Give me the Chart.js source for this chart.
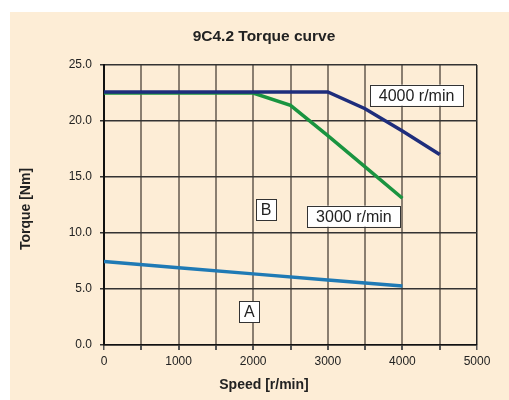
<!DOCTYPE html>
<html>
<head>
<meta charset="utf-8">
<script src="https://cdn.jsdelivr.net/npm/chart.js@4"></script>
<style>
  html, body { margin: 0; padding: 0; background: #fff; }
  #wrap { width: 509px; height: 400px; }
</style>
</head>
<body>
<div id="wrap"><canvas id="myChart" width="509" height="400"></canvas></div>
<script>
// 4000 r/min curve
let speeds4000 = [0, 3000, 3500, 4000, 4500];
let torque4000 = [22.6, 22.6, 21.1, 19.1, 17.0];
// 3000 r/min curve
let speeds3000 = [0, 2000, 2500, 3000, 3500, 4000];
let torque3000 = [22.5, 22.5, 21.4, 18.7, 15.9, 13.1];
// lower curve (zone A limit)
let speedsA = [0, 1000, 2000, 3000, 4000];
let torqueA = [7.45, 6.9, 6.35, 5.8, 5.27];

let toPoints = (xs, ys) => xs.map((x, i) => ({ x: x, y: ys[i] }));

// boxed text labels, placed in data coordinates
let notes = [
  { text: '4000 r/min', x: 4190, y: 22.3, w: 93 },
  { text: '3000 r/min', x: 3350, y: 11.5, w: 93 },
  { text: 'B', x: 2172, y: 12.1, w: 20 },
  { text: 'A', x: 1948, y: 2.95, w: 20 }
];

let fontFamily = '"Liberation Sans", Arial, sans-serif';
Chart.defaults.font.family = fontFamily;
Chart.defaults.color = '#222';

// beige panel + chart / axis titles (the source centres them on the panel, not the plot)
let panel = {
  id: 'panel',
  beforeDraw(chart) {
    let c = chart.ctx;
    c.save();
    c.fillStyle = '#fdedd6';
    c.fillRect(10, 12, chart.width - 10, chart.height - 12);
    c.fillStyle = '#222';
    c.textAlign = 'center';
    c.textBaseline = 'middle';
    c.font = 'bold 15.5px ' + fontFamily;
    c.fillText('9C4.2 Torque curve', 264, 37);
    c.font = 'bold 14px ' + fontFamily;
    c.fillText('Speed [r/min]', 264, 385);
    c.translate(26, 209);
    c.rotate(-Math.PI / 2);
    c.fillText('Torque [Nm]', 0, 0);
    c.restore();
  }
};

let boxes = {
  id: 'boxes',
  afterDatasetsDraw(chart) {
    let c = chart.ctx;
    let xs = chart.scales.x, ys = chart.scales.y;
    c.save();
    c.font = '16px ' + fontFamily;
    c.textAlign = 'center';
    c.textBaseline = 'middle';
    notes.forEach(n => {
      let px = xs.getPixelForValue(n.x);
      let py = ys.getPixelForValue(n.y);
      let h = 21;
      c.fillStyle = '#fff';
      c.fillRect(px - n.w / 2, py - h / 2, n.w, h);
      c.strokeStyle = '#333';
      c.lineWidth = 1;
      c.strokeRect(Math.round(px - n.w / 2) + 0.5, Math.round(py - h / 2) + 0.5, n.w, h);
      c.fillStyle = '#222';
      c.fillText(n.text, px, py + 1);
    });
    c.restore();
  }
};

let ctx = document.getElementById('myChart').getContext('2d');
let myChart = new Chart(ctx, {
  type: 'line',
  data: {
    datasets: [
      {
        label: '4000 r/min',
        data: toPoints(speeds4000, torque4000),
        borderColor: '#1e2d7c',
        borderWidth: 3.5,
        pointRadius: 0,
        tension: 0
      },
      {
        label: '3000 r/min',
        data: toPoints(speeds3000, torque3000),
        borderColor: '#1a9440',
        borderWidth: 3.5,
        pointRadius: 0,
        tension: 0
      },
      {
        label: 'A',
        data: toPoints(speedsA, torqueA),
        borderColor: '#1f7ab5',
        borderWidth: 3.5,
        pointRadius: 0,
        tension: 0
      }
    ]
  },
  options: {
    responsive: false,
    animation: false,
    layout: { padding: { left: 10, top: 65, right: 32, bottom: 0 } },
    plugins: {
      legend: { display: false },
      tooltip: { enabled: false },
      title: { display: false }
    },
    scales: {
      x: {
        type: 'linear',
        min: 0,
        max: 5000,
        afterFit: (s) => { s.height = 55; },
        ticks: {
          stepSize: 500,
          autoSkip: false,
          maxRotation: 0,
          padding: 4,
          font: { size: 12 },
          callback: (v) => (v % 1000 === 0 ? String(v) : '')
        },
        grid: {
          color: (c) => (c.index === 0 || c.index === 10 ? '#222' : '#8a7e70'),
          lineWidth: (c) => (c.index === 0 || c.index === 10 ? 1.5 : 2),
          tickLength: 5,
          tickColor: '#555'
        },
        border: { color: '#111', width: 1.5 }
      },
      y: {
        min: 0,
        max: 25,
        afterFit: (s) => { s.width = 94; },
        ticks: {
          stepSize: 5,
          padding: 8,
          font: { size: 12 },
          callback: (v) => v.toFixed(1)
        },
        grid: {
          color: '#333',
          lineWidth: 1.5,
          tickLength: 4,
          tickColor: '#333'
        },
        border: { color: '#111', width: 2 }
      }
    }
  },
  plugins: [panel, boxes]
});
</script>
</body>
</html>
